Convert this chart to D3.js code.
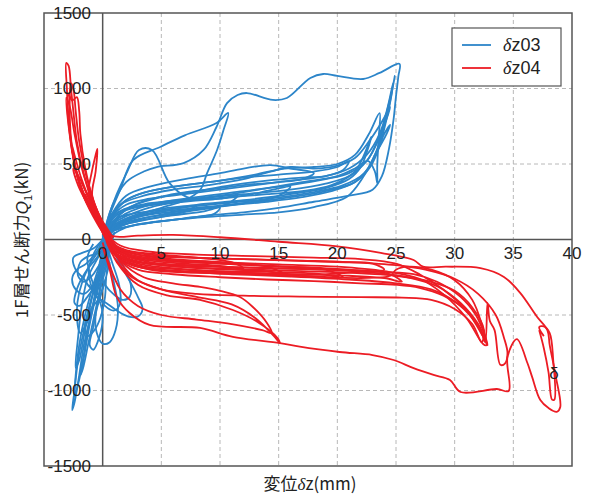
<!DOCTYPE html>
<html>
<head>
<meta charset="utf-8">
<script src="https://cdn.jsdelivr.net/npm/d3@7"></script>
<style>
  html, body { margin: 0; padding: 0; background: #fff; }
  svg { display: block; }
  text { font-family: "Liberation Sans", Arial, sans-serif; fill: #222; }
  .jp { font-family: "Noto Sans CJK JP", "Liberation Sans", sans-serif; }
</style>
</head>
<body>
<svg id="chart" width="589" height="497"></svg>
<script>
// Axis ticks and legend
const xTicks = [0, 5, 10, 15, 20, 25, 30, 35, 40];
const yTicks = [-1500, -1000, -500, 0, 500, 1000, 1500];
const seriesNames = ["z03", "z04"];
const seriesColors = ["#2c85c9", "#ec1c24"];

// δz03 : loops on the positive-force side (displacement mm, shear kN)
const b01 = [[0,-20],[0.4,80],[1.2,140],[2.5,170],[4,185],[5.5,200],[7,215],[8,225],[7,185],[5,150],[3,120],[1.5,90],[0.4,30]];
const b02 = [[0.1,0],[0.6,110],[1.6,180],[3,215],[5,235],[7.5,255],[10,270],[11.5,290],[10.5,230],[8,195],[5.5,165],[3,135],[1.2,90],[0.2,20]];
const b03 = [[0,0],[0.5,150],[1.2,300],[2.1,450],[3.1,593],[4.2,593],[5.7,373],[7.2,281],[9,265],[12,290],[14.5,330],[16,350],[15,290],[12,240],[9,210],[6,185],[3,150],[1,90],[0.1,20]];
const b04 = [[0,0],[0.6,160],[1.5,330],[2.6,526],[4.9,613],[7,690],[9.7,771],[10.7,838],[10.3,725],[9.75,593],[8.9,440],[8.3,328],[7,260],[5,210],[3,160],[1,100],[0.1,10]];
const b05 = [[0,0],[0.8,220],[2,380],[3.5,450],[4.6,480],[6.9,506],[8.6,593],[9.7,745],[10.6,903],[11.5,957],[12.3,970],[14.5,924],[15.7,937],[17.7,1070],[18.8,1096],[20,1083],[22.2,1063],[23.6,1103],[25.3,1163],[25.2,1080],[25,950],[24.8,800],[24.4,600],[23.8,420],[23,330],[21,290],[18,250],[15,210],[12,180],[9,160],[6,130],[3,100],[1,60],[0,0]];
const b06 = [[0,0],[0.8,150],[2,230],[4,270],[7,300],[10,330],[13,360],[16,390],[19,420],[21,470],[22.5,560],[23.6,700],[24.3,880],[24.75,1036],[24.6,950],[24.2,800],[23.6,620],[22.8,480],[21.5,380],[19,320],[16,280],[12,240],[8,210],[4,170],[1.5,100],[0.2,10]];
const b07 = [[0,0],[0.6,120],[1.8,200],[4,240],[8,270],[12,300],[16,330],[19,370],[21,420],[22.5,520],[23.5,660],[24.3,850],[24.9,1083],[24.7,1000],[24.3,870],[23.8,700],[23.2,560],[22.3,440],[20.5,360],[17,300],[13,260],[9,230],[5,190],[2,130],[0.3,30]];
const b08 = [[0,0],[0.5,130],[1.5,230],[3.5,290],[6,330],[9,360],[12,400],[14.3,450],[16,480],[18,470],[20,490],[21.5,540],[22.7,650],[23.8,780],[24.5,877],[24.2,800],[23.4,650],[22.5,520],[21,440],[19,400],[16,360],[12,320],[8,280],[4,230],[1.5,150],[0.2,20]];
const b09 = [[0,0],[0.7,140],[2,260],[4,320],[7,360],[10,390],[13,430],[15.5,470],[18,480],[20,500],[21.5,560],[22.7,700],[23.6,837],[23.5,650],[23.4,480],[23.4,373],[23.2,450],[22.6,520],[21.5,470],[20,420],[17,380],[14,340],[11,300],[7,260],[3.5,200],[1,110],[0.1,10]];
const b10 = [[0,0],[0.4,100],[1.3,180],[3,220],[6,250],[10,275],[14,300],[17,320],[19.5,360],[21.5,450],[22.9,680],[22.6,600],[22,480],[21,400],[19,340],[16,300],[12,260],[8,230],[4,190],[1.5,120],[0.2,20]];
const b11 = [[0,0],[0.6,140],[1.8,250],[3.5,310],[6,350],[9,380],[12,410],[15,430],[18,450],[20,480],[21,520],[20.5,460],[19,420],[17,410],[14,390],[11,360],[8,320],[5,280],[2,200],[0.3,40]];
const b12 = [[0,0],[0.8,170],[2,290],[4,350],[7,400],[10,440],[12,470],[14.3,493],[16,470],[18,440],[17,400],[15,380],[12,360],[9,330],[6,300],[3,240],[1,130],[0,0]];
const b13 = [[0,0],[1,60],[3,100],[6,130],[9,150],[12,165],[15,180],[18,215],[20.8,282],[22.2,414],[23.2,560],[24,700],[24.5,760],[24.2,700],[23.5,600],[22.7,480],[21.5,380],[19.5,320],[17,280],[14,250],[10,220],[6,180],[3,130],[1,70]];
const b14 = [[-0.3,-40],[0.5,40],[1.5,90],[3.5,130],[6,160],[8.5,185],[10,210],[9.5,170],[7,140],[4,110],[2,80],[0.6,20]];

// δz03 : loops on the negative-force side
const bn1 = [[0.5,20],[0.3,-100],[-0.3,-250],[-1,-400],[-1.6,-600],[-2.1,-800],[-2.4,-1000],[-2.6,-1130],[-2.4,-1080],[-2.0,-900],[-1.6,-700],[-1.0,-500],[-0.5,-300],[0,-120],[0.4,0]];
const bn2 = [[0.3,0],[-0.2,-150],[-0.8,-300],[-1.5,-500],[-2.0,-700],[-2.3,-900],[-2.4,-1040],[-2.1,-960],[-1.6,-780],[-1.1,-560],[-0.6,-380],[-0.1,-200],[0.3,-40]];
const bn3 = [[0.4,0],[-0.4,-120],[-1.3,-260],[-1.8,-450],[-2.1,-650],[-2.3,-850],[-2.0,-800],[-1.5,-600],[-1.0,-420],[-0.6,-280],[0,-150],[0.5,-20]];
const bn4 = [[0.5,0],[1.2,-120],[2.2,-260],[3.0,-380],[3.4,-460],[3.0,-510],[2.2,-510],[1.2,-470],[0.3,-420],[-0.5,-380],[-1,-300],[-1.2,-200],[-0.8,-100],[-0.2,-20]];
const bn5 = [[0.2,0],[0.8,-150],[1.4,-300],[1.5,-420],[1.0,-470],[0.2,-440],[-0.5,-350],[-1.0,-250],[-1.3,-120],[-0.8,-30]];
const bn6 = [[0.3,-50],[0,-200],[-0.4,-400],[-0.8,-580],[-1.1,-700],[-0.8,-730],[-0.3,-650],[0,-520],[-0.2,-420],[-0.7,-360],[-1.2,-300]];
const bn7 = [[0,0],[-0.8,-60],[-1.8,-90],[-2.5,-120],[-2.3,-200],[-1.6,-260],[-1,-320],[-0.4,-250],[0.2,-120],[0.5,-30]];
const bn8 = [[0.5,30],[-0.2,-60],[-1.2,-180],[-2,-350],[-2.2,-500],[-1.9,-620],[-1.4,-560],[-0.9,-450],[-0.4,-330],[0.2,-180],[0.6,-50]];
const bn9 = [[0.4,-100],[1,-300],[1.3,-450],[1.1,-600],[0.6,-680],[0,-690],[-0.5,-620],[-0.6,-500],[-0.2,-380],[0.3,-250]];
const bn10 = [[0.6,40],[0.2,-40],[-0.6,-130],[-1.5,-220],[-2.2,-330],[-2.4,-420],[-2.0,-440],[-1.3,-380],[-0.6,-300],[0,-200],[0.5,-80]];
const bn11 = [[0.8,60],[0.4,-60],[0,-180],[-0.5,-320],[-0.9,-470],[-1.3,-600],[-1.6,-760],[-1.9,-900],[-1.7,-860],[-1.2,-680],[-0.7,-500],[-0.2,-330],[0.3,-180],[0.7,-40]];
const bn12 = [[0.2,20],[-0.5,-80],[-1.4,-160],[-2.2,-200],[-2.6,-260],[-2.3,-330],[-1.6,-360],[-0.8,-300],[-0.2,-200],[0.4,-60]];
const bn13 = [[1,50],[0.6,-80],[0.3,-250],[0.2,-380],[-0.2,-520],[-0.7,-600],[-1.3,-640],[-1.5,-560],[-1.0,-460],[-0.4,-400],[0.1,-300],[0.6,-150]];
const bn14 = [[0.4,10],[1.0,-80],[1.8,-180],[2.4,-300],[2.3,-380],[1.7,-400],[0.9,-360],[0.2,-300],[-0.3,-200],[0,-80]];
const bn15 = [[0.9,30],[0.5,-50],[-0.3,-90],[-1.2,-110],[-1.9,-150],[-2.1,-240],[-1.6,-280],[-0.9,-240],[-0.3,-170],[0.4,-90],[1,-20]];

// δz04 : loops on the positive-force side
const rp1 = [[1,-30],[0.2,60],[-0.8,170],[-1.8,320],[-2.5,550],[-2.9,800],[-3.05,1000],[-3.1,1170],[-2.9,1150],[-2.7,1000],[-2.5,850],[-2.2,650],[-1.6,430],[-0.9,250],[-0.2,120],[0.6,20]];
const rp2 = [[0.8,-20],[0,70],[-1,200],[-2,380],[-2.6,600],[-2.8,800],[-2.7,1036],[-2.5,1000],[-2.3,850],[-2,650],[-1.4,420],[-0.7,240],[0.1,90],[0.8,0]];
const rp3 = [[0.6,-10],[-0.2,90],[-1.2,230],[-2.2,430],[-2.8,700],[-3,880],[-2.9,960],[-2.6,920],[-2.2,943],[-2,850],[-1.9,700],[-1.5,480],[-0.8,260],[0,110],[0.7,10]];
const rp4 = [[0.5,0],[-0.2,90],[-0.8,200],[-1.2,320],[-1.0,420],[-0.6,560],[-0.45,600],[-0.6,450],[-0.9,300],[-0.5,170],[0.2,60],[0.8,-10]];
const rp5 = [[0.5,0],[-0.3,100],[-1.5,280],[-2.4,500],[-2.9,750],[-3.1,940],[-2.8,880],[-2.4,700],[-1.7,450],[-0.9,270],[-0.1,130],[0.6,20]];
const rp6 = [[0.4,0],[-0.5,110],[-1.6,280],[-2.3,460],[-2.6,620],[-2.4,560],[-1.8,400],[-1,240],[-0.2,110],[0.5,10]];
const rp7 = [[1.2,-60],[0.4,30],[-0.6,140],[-1.4,250],[-2.1,360],[-2.5,470],[-2.2,440],[-1.5,330],[-0.8,220],[0,120],[0.9,10]];

// δz04 : loops on the negative-force side
const r01 = [[-0.8,200],[0,70],[0.8,-60],[2,-110],[4,-140],[7,-160],[10,-175],[12,-190],[11,-150],[8,-120],[5,-100],[2,-70],[0.5,-10],[-0.4,120]];
const r02 = [[-1.5,300],[-0.4,130],[0.5,10],[1,-80],[2.5,-140],[5,-170],[8,-190],[11,-200],[14,-210],[15.5,-230],[14,-180],[10,-150],[6,-130],[3,-100],[1,-40],[0,60],[-1,200]];
const r03 = [[-0.6,160],[0.2,40],[1,-90],[3,-160],[6,-190],[10,-210],[14,-215],[18,-225],[20.5,-250],[19,-200],[15,-180],[10,-160],[6,-140],[2.5,-110],[0.8,-40],[-0.2,90]];
const r04 = [[-1,230],[-0.2,110],[0.6,-10],[1.2,-100],[3,-170],[7,-200],[12,-220],[17,-230],[21,-240],[24,-255],[25.5,-280],[24.5,-230],[21,-200],[16,-180],[10,-160],[5,-140],[2,-100],[0.5,-20],[-0.5,150]];
const r05 = [[-0.4,140],[0.4,20],[1,-90],[3,-150],[7,-175],[12,-185],[17,-195],[21,-205],[24,-215],[26.5,-230],[28.5,-280],[30.5,-380],[31.8,-500],[32.5,-620],[32.8,-700],[32.4,-640],[31,-470],[29,-330],[27,-230],[25,-160],[22,-130],[18,-120],[13,-110],[8,-100],[4,-80],[1.5,-40],[0.2,50],[-0.9,210]];
const r06 = [[-1.8,380],[-0.7,190],[0.3,30],[1.2,-110],[3,-180],[6,-210],[11,-230],[16,-245],[21,-265],[25,-290],[28,-330],[30,-410],[31.5,-520],[32.3,-620],[32.6,-680],[32.8,-420],[33.0,-540],[33.4,-600],[33.9,-830],[34.3,-820],[34.5,-750],[34.2,-650],[33.5,-500],[32,-360],[30,-260],[27.5,-200],[25,-170],[21,-150],[17,-140],[12,-130],[7,-120],[3,-100],[1,-50],[0,80]];
const r07 = [[-0.9,200],[0.1,60],[0.6,-40],[1.5,-130],[4,-200],[8,-220],[13,-230],[18,-245],[22,-255],[24.5,-240],[25,-200],[26,-180],[28,-200],[30,-270],[31.5,-400],[32.3,-560],[32.7,-700],[32.4,-690],[31,-520],[29,-360],[27,-260],[24,-210],[20,-180],[15,-165],[10,-150],[5,-130],[2,-90],[0.4,0],[-0.6,170]];
const r08 = [[-0.3,100],[0.4,-10],[1,-100],[2.5,-170],[5,-200],[9,-215],[13,-225],[17,-235],[20,-225],[22,-215],[24,-200],[23,-160],[20,-150],[16,-140],[12,-130],[8,-120],[4,-100],[1.5,-60],[0.3,40]];
const r09 = [[-0.6,180],[0.3,50],[0.8,-40],[1.5,-150],[3,-270],[5,-330],[8,-360],[12,-372],[17,-378],[22,-382],[25.5,-385],[28,-400],[30,-460],[31.5,-560],[32.3,-680],[32.5,-600],[31.5,-450],[30,-340],[28,-280],[25,-240],[21,-220],[17,-210],[13,-200],[9,-190],[5,-170],[2,-120],[0.8,-40],[-0.1,90]];
const r10 = [[-0.5,150],[0.3,0],[1.5,-140],[3.5,-250],[6,-290],[8.3,-314],[10,-340],[11.7,-381],[12.8,-447],[14,-553],[14.4,-618],[13.6,-600],[11,-560],[8,-530],[5,-500],[3,-440],[1.5,-330],[0.5,-150],[0,-20]];
const r11 = [[-0.2,80],[0.3,0],[1.2,-150],[3,-300],[5.5,-370],[8.3,-400],[11.1,-467],[13.2,-546],[14.9,-652],[15.1,-686],[14.6,-640],[13,-520],[11,-430],[8,-380],[5,-330],[2.5,-250],[1,-120],[0.3,-10]];
const r12 = [[0,-50],[0.6,-200],[1.2,-380],[2.3,-487],[4,-566],[8.3,-586],[11.1,-645],[15.1,-686],[16.8,-710],[20.2,-745],[23,-765],[24.8,-798],[26.5,-852],[28.2,-897],[29.6,-930],[30.5,-1010],[33.6,-990],[34.6,-1003],[34.5,-778],[35.3,-660],[36.2,-818],[36.6,-910],[37.3,-1063],[38,-1116],[38.7,-1141],[39,-1109],[38.6,-900],[38.1,-700],[37.9,-600],[37,-510],[35.6,-355],[34.2,-248],[32.2,-190],[29.3,-180],[27.3,-180],[26.5,-136],[23.7,-89],[20,-45],[15,-15],[10,15],[6,30],[3,25],[1,20],[0,60]];
const r13 = [[37.6,-640],[37.2,-580],[37.6,-575],[38.1,-620],[38.4,-800],[38.5,-1060],[38.3,-1060],[38,-880],[37.6,-720],[37.2,-600]];
const r14 = [[-1.2,260],[-0.1,90],[0.6,0],[1.3,-120],[3,-200],[6,-230],[10,-250],[14,-265],[18,-275],[22,-290],[25,-300],[27,-320],[29,-370],[31,-470],[32.2,-600],[32.6,-660],[32,-560],[30.5,-420],[28.5,-310],[26,-250],[23,-220],[19,-200],[14,-190],[9,-175],[4,-150],[1.5,-90],[0.2,30]];

const blueLoops = [b01,b02,b03,b04,b05,b06,b07,b08,b09,b10,b11,b12,b13,b14,
                   bn1,bn2,bn3,bn4,bn5,bn6,bn7,bn8,bn9,bn10,bn11,bn12,bn13,bn14,bn15];
const redLoops  = [rp1,rp2,rp3,rp4,rp5,rp6,rp7,r01,r02,r03,r04,r05,r06,r07,r08,r09,r10,r11,r12,r13,r14];

const svg = d3.select("#chart");
const x = d3.scaleLinear().domain([-5, 40]).range([44, 572]);
const y = d3.scaleLinear().domain([-1500, 1500]).range([466, 13]);

svg.append("defs").append("clipPath").attr("id", "plot-clip")
  .append("rect").attr("x", 44).attr("y", 13).attr("width", 528).attr("height", 453);

// dashed grid
const gridX = xTicks.filter(v => v > 0 && v < 40);
const gridY = yTicks.filter(v => v !== 0 && Math.abs(v) < 1500);
svg.append("g").selectAll("line").data(gridX).join("line")
  .attr("x1", d => x(d)).attr("x2", d => x(d)).attr("y1", y(1500)).attr("y2", y(-1500))
  .attr("stroke", "#b8b8b8").attr("stroke-width", 1).attr("stroke-dasharray", "4,3");
svg.append("g").selectAll("line").data(gridY).join("line")
  .attr("x1", x(-5)).attr("x2", x(40)).attr("y1", d => y(d)).attr("y2", d => y(d))
  .attr("stroke", "#b8b8b8").attr("stroke-width", 1).attr("stroke-dasharray", "4,3");

// zero axes
svg.append("line").attr("x1", x(0)).attr("x2", x(0)).attr("y1", y(1500)).attr("y2", y(-1500))
  .attr("stroke", "#555").attr("stroke-width", 1.5);
svg.append("line").attr("x1", x(-5)).attr("x2", x(40)).attr("y1", y(0)).attr("y2", y(0))
  .attr("stroke", "#555").attr("stroke-width", 1.5);

// hysteresis loops
const line = d3.line().x(d => x(d[0])).y(d => y(d[1])).curve(d3.curveCatmullRom.alpha(0.5));
const marks = svg.append("g").attr("clip-path", "url(#plot-clip)");
marks.append("g").selectAll("path").data(blueLoops).join("path")
  .attr("d", line).attr("fill", "none").attr("stroke", seriesColors[0])
  .attr("stroke-width", 1.8).attr("stroke-linejoin", "round");
marks.append("g").selectAll("path").data(redLoops).join("path")
  .attr("d", line).attr("fill", "none").attr("stroke", seriesColors[1])
  .attr("stroke-width", 1.8).attr("stroke-linejoin", "round");

// frame
svg.append("rect").attr("x", x(-5)).attr("y", y(1500))
  .attr("width", x(40) - x(-5)).attr("height", y(-1500) - y(1500))
  .attr("fill", "none").attr("stroke", "#555").attr("stroke-width", 1.5);

// tick labels
svg.append("g").selectAll("text").data(yTicks).join("text")
  .attr("x", 91).attr("y", d => y(d)).attr("text-anchor", "end").attr("dy", "0.35em")
  .style("font-size", "17px").text(d => d < 0 ? "-" + Math.abs(d) : d);
svg.append("g").selectAll("text").data(xTicks).join("text")
  .attr("x", d => x(d)).attr("y", 253).attr("text-anchor", "middle").attr("dy", "0.35em")
  .style("font-size", "17px").text(d => d);

// axis titles
const xt = svg.append("text").attr("class", "jp").attr("x", 310).attr("y", 490)
  .attr("text-anchor", "middle").style("font-size", "17px");
xt.append("tspan").text("変位");
xt.append("tspan").style("font-style", "italic").style("font-family", "Liberation Serif, serif").text("δ");
xt.append("tspan").text("z(mm)");

const yt = svg.append("text").attr("class", "jp")
  .attr("transform", "translate(28,240) rotate(-90)")
  .attr("text-anchor", "middle").style("font-size", "17px");
yt.append("tspan").text("1F層せん断力");
yt.append("tspan").style("font-style", "italic").style("font-family", "Liberation Sans, sans-serif").text("Q");
yt.append("tspan").attr("dy", 4).style("font-size", "11px").text("1");
yt.append("tspan").attr("dy", -4).text("(kN)");

// legend
const lg = svg.append("g");
lg.append("rect").attr("x", 452).attr("y", 28).attr("width", 109).attr("height", 58)
  .attr("fill", "#fff").attr("stroke", "#555").attr("stroke-width", 1.2);
seriesNames.forEach((name, i) => {
  const ly = 45 + i * 23;
  lg.append("line").attr("x1", 462).attr("x2", 491).attr("y1", ly).attr("y2", ly)
    .attr("stroke", seriesColors[i]).attr("stroke-width", 1.8);
  const t = lg.append("text").attr("x", 503).attr("y", ly).attr("dy", "0.35em").style("font-size", "18px");
  t.append("tspan").style("font-style", "italic").style("font-family", "Liberation Serif, serif").text("δ");
  t.append("tspan").text(name);
});

// gauge marker near the far loop
svg.append("text").attr("x", 554).attr("y", 373).attr("dy", "0.35em").attr("text-anchor", "middle")
  .style("font-size", "17px").text("δ");
</script>
</body>
</html>
